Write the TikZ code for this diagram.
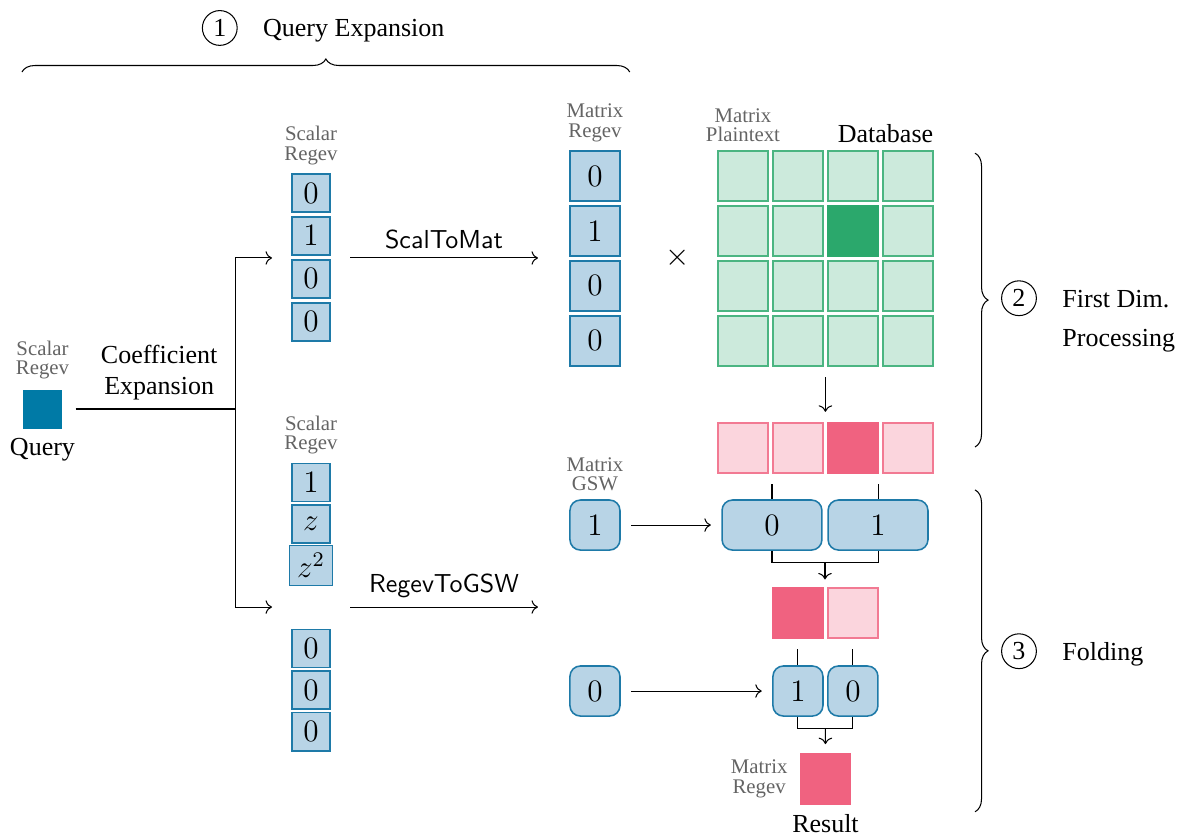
\documentclass[tikz,border=0pt]{standalone}
\usepackage[no-math]{fontspec}
\setmainfont{Liberation Serif}
\usepackage{amsmath, amssymb}
\usepackage{xcolor}
\usepackage{tikz}
\usetikzlibrary{positioning, arrows.meta, calc, decorations.pathreplacing}

\definecolor{queryblue}{RGB}{0,122,166}
\definecolor{regfill}{RGB}{184,212,230}
\definecolor{regline}{RGB}{30,122,168}
\definecolor{dbgreen}{RGB}{43,168,108}
\definecolor{respink}{RGB}{240,98,128}
\definecolor{taggray}{RGB}{100,100,100}

\begin{document}
\begin{tikzpicture}[
        sreg/.style={draw=regline, fill=regfill, line width=0.6pt, minimum size=0.514cm, inner sep=0pt, font=\large},
        mreg/.style={sreg, minimum size=0.676cm},
        gsw/.style={mreg, rounded corners=4pt},
        dbcell/.style={draw=dbgreen!85, fill=dbgreen!24, line width=0.6pt, minimum size=0.676cm, inner sep=0pt},
        dbhot/.style={dbcell, draw=dbgreen, fill=dbgreen},
        rescell/.style={draw=respink!85, fill=respink!27, line width=0.6pt, minimum size=0.676cm, inner sep=0pt},
        reshot/.style={rescell, draw=respink, fill=respink},
        tag/.style={font=\footnotesize, text=taggray, align=center, inner sep=0pt},
        stepnum/.style={draw, circle, minimum size=0.47cm, inner sep=0pt},
        steptxt/.style={anchor=west, text depth=0pt, align=left},
        brc/.style={decorate, decoration={brace, amplitude=5pt}},
        op/.style={font=\sffamily, above}
    ]
        \useasboundingbox (0,0) rectangle (16,-11.351);

        \node[stepnum] (s1) at (2.97,-0.378) {1};
        \node[steptxt, right=0.22cm of s1] (s1txt) {Query Expansion};
        \draw[brc] (0.297,-0.973) -- (8.51,-0.973);

        \node[fill=queryblue, minimum size=0.527cm, inner sep=0pt] (query) at (0.574,-5.527) {};
        \node[tag, above=3.5pt of query] (querytag) {Scalar\\[-2pt]Regev};
        \node[below=0pt of query] (querytxt) {Query};
        \coordinate (split) at (3.176,-5.527);
        \draw[shorten <=5pt] (query) -- node[above, align=center, xshift=4pt] {Coefficient\\Expansion} (split);

        \foreach \v [count=\i] in {0,1,0,0}
            \node[sreg] (sa\i) at (4.203,{-2.028-0.58*\i}) {$\v$};
        \node[tag, above=3pt of sa1] (satag) {Scalar\\[-2pt]Regev};

        \node[sreg] (sb1) at (4.203,-6.520) {$1$};
        \node[sreg] (sb2) at (4.203,-7.081) {$z$};
        \node[sreg, minimum width=0.58cm, minimum height=0.54cm] (sb3) at (4.203,-7.642) {$z^2$};
        \foreach \i in {4,5,6}
            \node[sreg] (sb\i) at (4.203,{-6.522-0.561*\i}) {$0$};
        \node[tag, above=3pt of sb1] (sbtag) {Scalar\\[-2pt]Regev};

        \coordinate (sain) at (3.676,-3.486);
        \coordinate (sbin) at (3.676,-8.203);
        \draw[->] (split) |- (sain);
        \draw[->] (split) |- (sbin);

        \coordinate (scalfrom) at (4.73,-3.486);
        \coordinate (scalto) at (7.27,-3.486);
        \draw[->] (scalfrom) -- node[op] {ScalToMat} (scalto);
        \coordinate (gswfrom) at (4.73,-8.203);
        \coordinate (gswto) at (7.27,-8.203);
        \draw[->] (gswfrom) -- node[op] {RegevToGSW} (gswto);

        \foreach \v [count=\i] in {0,1,0,0}
            \node[mreg] (mr\i) at (8.04,{-1.635-0.743*\i}) {$\v$};
        \node[tag, above=3pt of mr1] (mrtag) {Matrix\\[-2pt]Regev};
        \node[font=\large] (times) at (9.162,-3.486) {$\times$};

        \foreach \r in {1,...,4}
            \foreach \c in {1,...,4}
                \node[dbcell] (db\r\c) at ({9.297+0.743*\c},{-1.635-0.743*\r}) {};
        \node[dbhot] (dbhit) at (db23) {};
        \node[tag, above=3pt of db11] (dbtag) {Matrix\\[-2pt]Plaintext};
        \node[anchor=base east, inner sep=0pt] (dbname) at ([yshift=3pt]db14.north east) {Database};

        \foreach \c in {1,...,4}
            \node[rescell] (pk\c) at ({9.297+0.743*\c},-6.054) {};
        \node[reshot] (pkhit) at (pk3) {};
        \coordinate (gridout) at ($(db42.south)!0.5!(db43.south)$);
        \draw[->, shorten <=4pt, shorten >=4pt] (gridout) -- (gridout |- pk3.north);

        \node[gsw, minimum width=1.35cm] (gw0) at (10.432,-7.095) {$0$};
        \node[gsw, minimum width=1.35cm] (gw1) at (11.865,-7.095) {$1$};
        \draw[shorten <=4pt] (gw0.north |- pk2.south) -- (gw0.north);
        \draw[shorten <=4pt] (gw1.north |- pk3.south) -- (gw1.north);
        \node[gsw] (gone) at (8.04,-7.095) {$1$};
        \node[tag, above=3pt of gone] (gonetag) {Matrix\\[-2pt]GSW};
        \draw[->, shorten <=4pt, shorten >=4pt] (gone) -- (gw0);
        \coordinate (foldA) at ($(gw0.south)!0.5!(gw1.south)+(0,-0.162)$);
        \draw (gw0.south) |- (foldA) -| (gw1.south);

        \node[reshot] (pr1) at (10.783,-8.284) {};
        \node[rescell] (pr2) at (11.526,-8.284) {};
        \draw[->, shorten >=3pt] (foldA) -- (foldA |- pr1.north);

        \node[gsw] (fb1) at (10.783,-9.338) {$1$};
        \node[gsw] (fb0) at (11.526,-9.338) {$0$};
        \draw[shorten <=4pt] (pr1.south) -- (fb1.north);
        \draw[shorten <=4pt] (pr2.south) -- (fb0.north);
        \node[gsw] (gzero) at (8.04,-9.338) {$0$};
        \draw[->, shorten <=4pt, shorten >=4pt] (gzero) -- (fb1);
        \coordinate (foldB) at ($(fb1.south)!0.5!(fb0.south)+(0,-0.162)$);
        \draw (fb1.south) |- (foldB) -| (fb0.south);

        \node[reshot] (result) at (11.155,-10.527) {};
        \draw[->, shorten >=3.5pt] (foldB) -- (result);
        \node[tag, left=4.5pt of result] (restag) {Matrix\\[-2pt]Regev};
        \node[below=0pt of result] (restxt) {Result};

        \draw[brc] (13.176,-2.07) -- (13.176,-6.04);
        \node[stepnum] (s2) at (13.77,-4.03) {2};
        \node[anchor=north west, inner sep=0pt, align=left] (s2txt) at ([xshift=0.338cm, yshift=3.4pt]s2.east) {First Dim.\\[3pt]Processing};
        \draw[brc] (13.176,-6.62) -- (13.176,-10.97);
        \node[stepnum] (s3) at (13.77,-8.8) {3};
        \node[steptxt, right=0.22cm of s3] (s3txt) {Folding};
\end{tikzpicture}
\end{document}
